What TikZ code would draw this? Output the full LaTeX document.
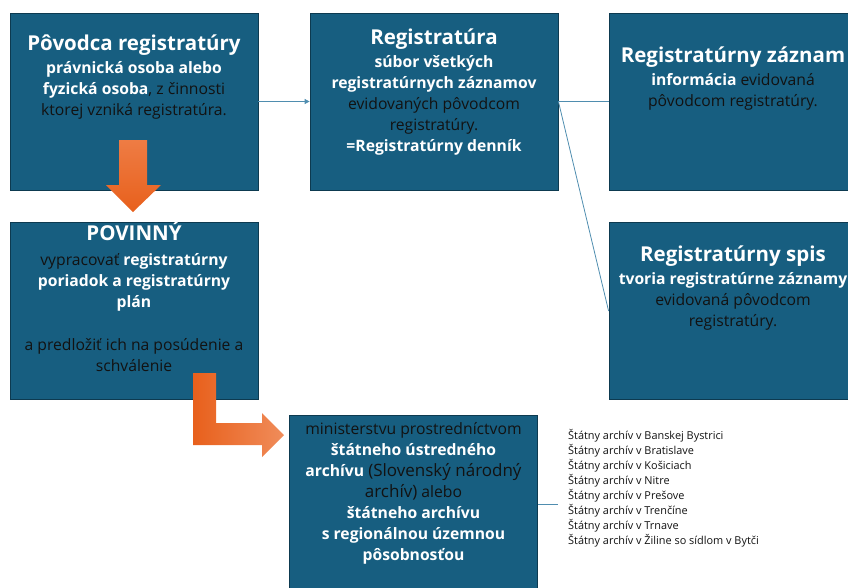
\documentclass[tikz,border=0pt]{standalone}
\usepackage{fontspec}
\setmainfont{Open Sans}
\usepackage{tikz}
\usetikzlibrary{arrows.meta,positioning}

\definecolor{boxblue}{HTML}{175E80}
\definecolor{boxline}{HTML}{0D3A50}
\definecolor{txtdark}{HTML}{121212}
\definecolor{linkblue}{HTML}{4F8DAF}
\definecolor{orangedark}{HTML}{E8601C}
\definecolor{orangemid}{HTML}{EE7C44}
\definecolor{orangelight}{HTML}{F08C5A}

\tikzset{
  regbox/.style={draw=boxline, line width=0.8pt, fill=boxblue,
    minimum width=248pt, minimum height=177pt, inner sep=0pt},
  boxtext/.style={align=center, text=txtdark, inner sep=0pt,
    font=\fontsize{15.7}{21}\selectfont},
  listtext/.style={align=left, text=txtdark, inner xsep=10pt, inner ysep=0pt,
    font=\fontsize{10.9}{15}\selectfont},
  link/.style={draw=linkblue, line width=0.8pt}
}
\newcommand{\boxhead}[1]{{\fontsize{20.5}{21}\selectfont\bfseries\color{white}#1}}
\newcommand{\boxbold}[1]{{\bfseries\color{white}#1}}

\begin{document}
\begin{tikzpicture}[x=1pt,y=-1pt]
\useasboundingbox (0,0) rectangle (848,587);
\clip (0,0) rectangle (848,587);

\node[regbox] (povodca) at (134,101.5) {};
\node[regbox] (registratura) at (434,101.5) {};
\node[regbox] (zaznam) at (733,101.5) {};
\node[regbox] (spis) at (733,311) {};
\node[regbox] (povinny) at (134,310.5) {};
\node[regbox] (ministerstvo) at (413.5,504) {};

\node[boxtext, below=22pt of povodca.north] (povodcatxt)
{\boxhead{Pôvodca registratúry}\\[2pt]
 \boxbold{právnická osoba alebo}\\
 \boxbold{fyzická osoba}, z činnosti\\
 ktorej vzniká registratúra.};
\node[boxtext, below=16pt of registratura.north] (registraturatxt)
{\boxhead{Registratúra}\\[2pt]
 \boxbold{súbor všetkých}\\
 \boxbold{registratúrnych záznamov}\\
 evidovaných pôvodcom\\
 registratúry.\\
 \boxbold{=Registratúrny denník}};
\node[boxtext, below=34pt of zaznam.north] (zaznamtxt)
{\boxhead{Registratúrny záznam}\\[2pt]
 \boxbold{informácia} evidovaná\\
 pôvodcom registratúry.};
\node[boxtext, below=23pt of spis.north] (spistxt)
{\boxhead{Registratúrny spis}\\[2pt]
 \boxbold{tvoria registratúrne záznamy}\\
 evidovaná pôvodcom\\
 registratúry.};
\node[boxtext, below=0pt of povinny.north] (povinnytxt)
{\boxhead{POVINNÝ}\\[4pt]
 vypracovať \boxbold{registratúrny}\\
 \boxbold{poriadok a registratúrny}\\
 \boxbold{plán}\\[22pt]
 a predložiť ich na posúdenie a\\
 schválenie};
\node[boxtext, below=7pt of ministerstvo.north] (ministerstvotxt)
{ministerstvu prostredníctvom\\
 \boxbold{štátneho ústredného}\\
 \boxbold{archívu} {\fontsize{17}{21}\selectfont(Slovenský národný}\\
 {\fontsize{17}{21}\selectfont archív)} alebo\\
 \boxbold{štátneho archívu}\\
 \boxbold{s regionálnou územnou}\\
 \boxbold{pôsobnosťou}};

\node[listtext, anchor=north west] (archivy) at (558,429)
{Štátny archív v Banskej Bystrici\\
 Štátny archív v Bratislave\\
 Štátny archív v Košiciach\\
 Štátny archív v Nitre\\
 Štátny archív v Prešove\\
 Štátny archív v Trenčíne\\
 Štátny archív v Trnave\\
 Štátny archív v Žiline so sídlom v Bytči};

\draw[link,-{Triangle[length=5pt,width=5pt]}] (povodca.east) -- (registratura.west);
\draw[link] (registratura.east) -- (zaznam.west);
\draw[link] (registratura.east) -- (spis.west);
\draw[link] (ministerstvo.east) -- (ministerstvo.east -| archivy.west);

\shade[top color=orangemid, bottom color=orangedark]
  (119,140) -- (147,140) -- (147,185) -- (161,185) -- (133,212)
  -- (106,185) -- (119,185) -- cycle;
\shade[left color=orangedark, right color=orangelight]
  (193,373) -- (216,373) -- (216,423) -- (262,423) -- (262,413)
  -- (284,435) -- (262,457) -- (262,445) -- (193,445) -- cycle;
\end{tikzpicture}
\end{document}
